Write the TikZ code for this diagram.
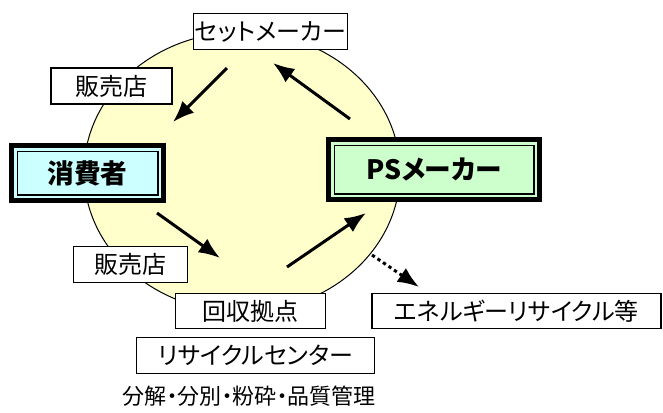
\documentclass[tikz,border=0pt]{standalone}
\usepackage{fontspec}
\setmainfont{Noto Sans CJK JP}[RawFeature=+palt]
\usetikzlibrary{arrows.meta}

\definecolor{ringfill}{RGB}{255,255,204}
\definecolor{userfill}{RGB}{204,255,255}
\definecolor{makerfill}{RGB}{204,255,204}

\begin{document}
\begin{tikzpicture}[x=0.75pt, y=-0.75pt,
    labelbox/.style={draw, line width=1pt, fill=white, inner sep=0pt,
        minimum height=27pt, font=\fontsize{18}{18}\selectfont},
    mainbox/.style={draw, line width=3.75pt, inner sep=0pt,
        font=\bfseries\fontsize{20}{20}\selectfont,
        path picture={\draw [line width=1.1pt]
            ([shift={(4.3pt,-4.3pt)}]path picture bounding box.north west) rectangle
            ([shift={(-4.3pt,4.3pt)}]path picture bounding box.south east);}},
    flow/.style={line width=2.25pt, -{Latex[length=16pt,width=12.5pt]}}]

    \useasboundingbox (0,0) rectangle (663,412);

    % the recycling loop
    \draw [fill=ringfill, line width=0.75pt] (242,172) ellipse [x radius=158, y radius=140];

    % stations on the loop
    \node [labelbox, minimum width=115.5pt] (setmaker) at (270.5,31.5) {セットメーカー};
    \node [labelbox, minimum width=90.75pt] (shoptop) at (111.5,86) {販売店};
    \node [labelbox, minimum width=85.5pt] (shopbot) at (130.5,264.5) {販売店};
    \node [labelbox, minimum width=112.5pt, minimum height=26.25pt] (collect) at (250.5,311) {回収拠点};
    \node [labelbox, minimum width=178.5pt] (center) at (255.5,355.5) {リサイクルセンター};
    \node [labelbox, minimum width=216.75pt, minimum height=26.25pt] (energy) at (516.5,311) {エネルギーリサイクル等};
    \node (process) at (249,396) {\fontsize{16.5}{16.5}\selectfont 分解・分別・粉砕・品質管理};

    \node [mainbox, fill=userfill, minimum width=114pt, minimum height=41.25pt] (user) at (87.5,173) {消費者};
    \node [mainbox, fill=makerfill, minimum width=158.25pt, minimum height=45pt] (psmaker) at (434,169.5) {PSメーカー};

    % arrows round the loop
    \coordinate (a1) at (227,68);  \coordinate (b1) at (173,122);
    \coordinate (a2) at (350,119); \coordinate (b2) at (273,63);
    \coordinate (a3) at (157,213); \coordinate (b3) at (220,258);
    \coordinate (a4) at (287,267); \coordinate (b4) at (366,213);
    \coordinate (a5) at (372,255); \coordinate (b5) at (419,287);

    \draw [flow] (a1) -- (b1);
    \draw [flow] (a2) -- (b2);
    \draw [flow] (a3) -- (b3);
    \draw [flow] (a4) -- (b4);
    \draw [flow, dash pattern=on 2.5pt off 2.5pt] (a5) -- (b5);
\end{tikzpicture}
\end{document}
